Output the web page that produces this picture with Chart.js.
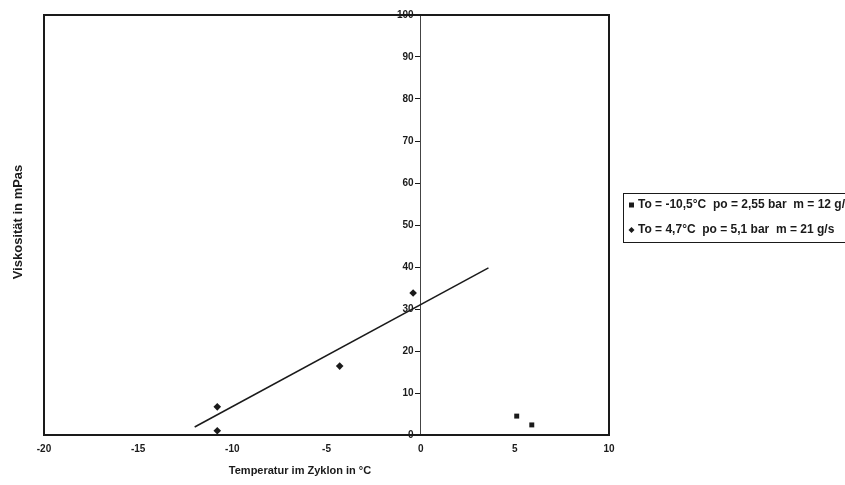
<!DOCTYPE html>
<html>
<head>
<meta charset="utf-8">
<script src="https://cdn.jsdelivr.net/npm/chart.js@4.4.1/dist/chart.umd.min.js"></script>
<style>
  html, body { margin: 0; padding: 0; background: #fff; }
  #wrap { width: 845px; height: 485px; }
</style>
</head>
<body>
<div id="wrap"><canvas id="chart" width="845" height="485"></canvas></div>
<script>
// Messreihen: Viskosität über Temperatur im Zyklon
const seriesLabels = [
  "To = -10,5°C  po = 2,55 bar  m = 12 g/s",
  "To = 4,7°C  po = 5,1 bar  m = 21 g/s"
];
const squareX = [5.1, 5.9];
const squareY = [4.5, 2.4];
const diamondX = [-10.8, -10.8, -4.3, -0.4];
const diamondY = [6.7, 1.0, 16.4, 33.8];
// Trendlinie (Anfang und Ende)
const trendX = [-12.0, 3.6];
const trendY = [1.9, 39.8];

const xTitle = "Temperatur im Zyklon in °C";
const yTitle = "Viskosität in mPas";
const xRange = [-20, 10];
const yRange = [0, 100];

const FONT = "'Liberation Sans', Arial, sans-serif";
const INK = "#1a1a1a";

const toPoints = (xs, ys) => xs.map((x, i) => ({ x: x, y: ys[i] }));

// Rahmen um die Zeichenfläche
const frame = {
  id: "frame",
  beforeDatasetsDraw(chart) {
    const { ctx, chartArea: a } = chart;
    ctx.save();
    ctx.strokeStyle = INK;
    ctx.lineWidth = 2;
    ctx.strokeRect(a.left, a.top, a.right - a.left, a.bottom - a.top);
    ctx.restore();
  }
};

// Achsentitel, y-Beschriftung an der Nulllinie und Legende
const extras = {
  id: "extras",
  afterDraw(chart) {
    const ctx = chart.ctx;
    const xs = chart.scales.x;
    const ys = chart.scales.y;

    ctx.save();
    ctx.fillStyle = INK;
    ctx.font = "bold 10px " + FONT;
    ctx.textAlign = "right";
    ctx.textBaseline = "middle";
    const axisX = xs.getPixelForValue(0);
    ys.ticks.forEach(t => {
      ctx.fillText(String(t.value), axisX - 7, ys.getPixelForValue(t.value));
    });
    ctx.restore();

    ctx.save();
    ctx.fillStyle = INK;
    ctx.textAlign = "center";
    ctx.textBaseline = "middle";
    ctx.font = "bold 11px " + FONT;
    ctx.fillText(xTitle, 300, 471);
    ctx.font = "bold 13px " + FONT;
    ctx.translate(18, 222);
    ctx.rotate(-Math.PI / 2);
    ctx.fillText(yTitle, 0, 0);
    ctx.restore();

    // Legende rechts, läuft über den Rand hinaus
    ctx.save();
    ctx.strokeStyle = INK;
    ctx.lineWidth = 1;
    ctx.strokeRect(623.5, 193.5, 300, 49);
    ctx.font = "bold 12px " + FONT;
    ctx.textBaseline = "middle";
    ctx.fillStyle = INK;
    const rows = [205, 230];
    chart.data.datasets.slice(0, 2).forEach((ds, i) => {
      const y = rows[i];
      ctx.beginPath();
      if (ds.pointStyle === "rect") {
        ctx.rect(629, y - 2.5, 5, 5);
      } else {
        ctx.moveTo(631.5, y - 3);
        ctx.lineTo(634.5, y);
        ctx.lineTo(631.5, y + 3);
        ctx.lineTo(628.5, y);
        ctx.closePath();
      }
      ctx.fill();
      ctx.fillText(ds.label, 638, y);
    });
    ctx.restore();
  }
};

new Chart(document.getElementById("chart"), {
  type: "scatter",
  plugins: [frame, extras],
  data: {
    datasets: [
      {
        label: seriesLabels[0],
        data: toPoints(squareX, squareY),
        pointStyle: "rect",
        pointRadius: 3.5,
        backgroundColor: INK,
        borderColor: INK,
        borderWidth: 0
      },
      {
        label: seriesLabels[1],
        data: toPoints(diamondX, diamondY),
        pointStyle: "rectRot",
        pointRadius: 3.8,
        backgroundColor: INK,
        borderColor: INK,
        borderWidth: 0
      },
      {
        label: "Trend",
        type: "line",
        data: toPoints(trendX, trendY),
        borderColor: INK,
        borderWidth: 1.5,
        pointRadius: 0,
        fill: false
      }
    ]
  },
  options: {
    responsive: false,
    animation: false,
    layout: { padding: { left: 44, top: 15, right: 236, bottom: 22 } },
    plugins: {
      legend: { display: false },
      tooltip: { enabled: false }
    },
    scales: {
      x: {
        type: "linear",
        min: xRange[0],
        max: xRange[1],
        grid: { display: false, drawTicks: false },
        border: { display: false },
        ticks: {
          stepSize: 5,
          padding: 8,
          color: INK,
          font: { family: FONT, size: 10, weight: "bold" }
        }
      },
      y: {
        type: "linear",
        position: { x: 0 },
        min: yRange[0],
        max: yRange[1],
        grid: { drawOnChartArea: false, drawTicks: true, tickLength: 5, color: INK },
        border: { display: true, color: "#444", width: 1 },
        ticks: { stepSize: 10, display: false }
      }
    }
  }
});
</script>
</body>
</html>
